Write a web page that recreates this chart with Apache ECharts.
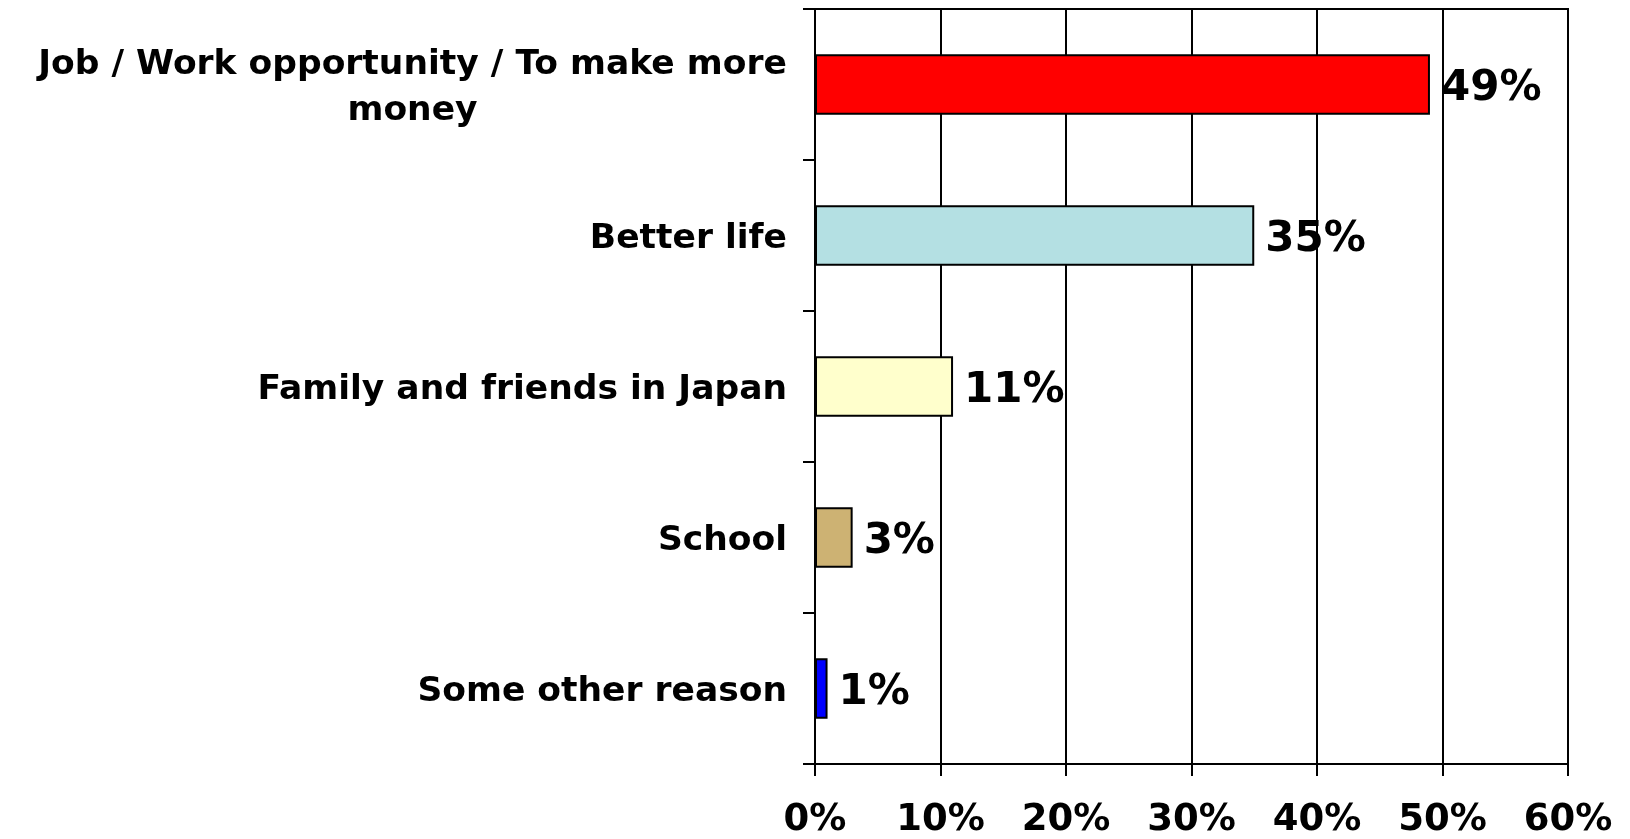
<!DOCTYPE html>
<html>
<head>
<meta charset="utf-8">
<script src="https://cdn.jsdelivr.net/npm/echarts@6/dist/echarts.min.js"></script>
<style>
html,body{margin:0;padding:0;background:#fff;}
#chart{width:1630px;height:839px;}
</style>
</head>
<body>
<div id="chart"></div>
<script>
var categories = [
  'Job / Work opportunity / To make more\nmoney',
  'Better life',
  'Family and friends in Japan',
  'School',
  'Some other reason'
];
var values = [49, 35, 11, 3, 1];
var barColors = ['#FF0000', '#B4E0E3', '#FFFFCC', '#CDB273', '#0000FF'];
var xTicks = [0, 10, 20, 30, 40, 50, 60];

var FONT = 'DejaVu Sans';
var catFontSize = 34.5;

var ctx = document.createElement('canvas').getContext('2d');
ctx.font = 'bold ' + catFontSize + 'px "' + FONT + '"';
var firstLineW = Math.ceil(ctx.measureText(categories[0].split('\n')[0]).width);

function catFormatter(val) {
  var lines = val.split('\n');
  if (lines.length === 1) return '{a|' + val + '}';
  return lines.map(function (l) { return '{c|' + l + '}'; }).join('\n');
}

var chart = echarts.init(document.getElementById('chart'), null, {renderer: 'canvas'});
var option = {
  animation: false,
  backgroundColor: '#ffffff',
  grid: {
    left: 815, right: 62, top: 9, bottom: 72,
    show: true, borderColor: '#000', borderWidth: 2, backgroundColor: 'transparent'
  },
  xAxis: {
    type: 'value',
    min: xTicks[0], max: xTicks[xTicks.length - 1], interval: 10,
    axisLine: {show: true, lineStyle: {color: '#000', width: 2}},
    axisTick: {show: true, length: 12, lineStyle: {color: '#000', width: 2}},
    splitLine: {show: true, lineStyle: {color: '#000', width: 2}},
    axisLabel: {
      formatter: '{value}%', color: '#000', fontFamily: FONT, fontWeight: 'bold',
      fontSize: 37, margin: 38
    }
  },
  yAxis: {
    type: 'category',
    inverse: true,
    data: categories,
    axisLine: {show: true, onZero: false, lineStyle: {color: '#000', width: 2}},
    axisTick: {show: true, length: 12, lineStyle: {color: '#000', width: 2}},
    axisLabel: {
      color: '#000', fontFamily: FONT, fontWeight: 'bold', fontSize: catFontSize,
      margin: 28, lineHeight: 46,
      formatter: catFormatter,
      rich: {
        a: {fontFamily: FONT, fontWeight: 'bold', fontSize: catFontSize, color: '#000', lineHeight: 46,
            padding: [8, 0, 0, 0]},
        c: {fontFamily: FONT, fontWeight: 'bold', fontSize: catFontSize, color: '#000', lineHeight: 46,
            width: firstLineW, align: 'center', padding: [8, 0, 0, 0]}
      }
    }
  },
  series: [{
    type: 'bar',
    data: values.map(function (v, i) {
      return {value: v, itemStyle: {color: barColors[i]}};
    }),
    barWidth: '40%',
    itemStyle: {borderColor: '#000', borderWidth: 2},
    label: {
      show: true, position: 'right', distance: 11, offset: [0, 5],
      formatter: '{c}%', color: '#000', fontFamily: FONT, fontWeight: 'bold', fontSize: 42
    }
  }]
};
chart.setOption(option);
</script>
</body>
</html>
